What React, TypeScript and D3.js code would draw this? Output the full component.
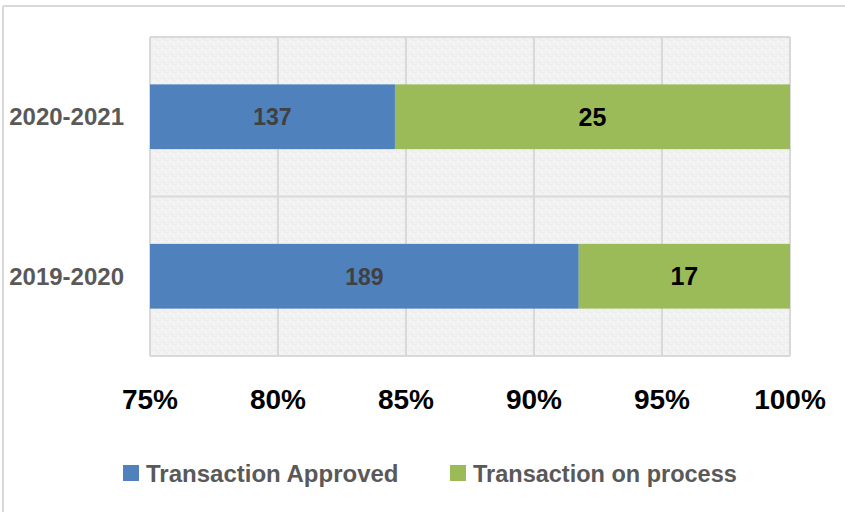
import React from "react";
import * as d3 from "d3";

const categories = ["2020-2021", "2019-2020"];
const approved = [137, 189];
const onProcess = [25, 17];
const xTicks = [0.75, 0.8, 0.85, 0.9, 0.95, 1.0];
const seriesNames = ["Transaction Approved", "Transaction on process"];
const seriesColors = ["#4f81bd", "#9bbb59"];

const W = 845;
const H = 512;

export default function App() {
  const x = d3.scaleLinear().domain([0.75, 1]).range([150, 790]);
  const y = d3
    .scaleBand<string>()
    .domain(categories)
    .range([37, 356])
    .paddingInner(0.594)
    .paddingOuter(0.297);
  const bw = y.bandwidth();
  const fmt = d3.format(".0%");
  const font = "'Liberation Sans', Arial, sans-serif";

  const rows = categories.map((c, i) => {
    const total = approved[i] + onProcess[i];
    const p = approved[i] / total;
    return { c, a: approved[i], o: onProcess[i], p };
  });

  const bandEdges = [37, ...categories.map((c) => (y(c) as number) + bw + (y.step() - bw) / 2)];

  return (
    <svg
      width={W}
      height={H}
      style={{ position: "absolute", left: 0, top: 0, background: "#fff" }}
      fontFamily={font}
    >
      <defs>
        <pattern id="tex" width="8" height="8" patternUnits="userSpaceOnUse">
          <rect width="8" height="8" fill="#f1f1f1" />
          <rect x="1" y="1" width="2" height="1" fill="#fafafa" />
          <rect x="5" y="3" width="1" height="2" fill="#fbfbfb" />
          <rect x="3" y="6" width="2" height="1" fill="#e9e9e9" />
          <rect x="6" y="0" width="1" height="1" fill="#e8e8e8" />
        </pattern>
      </defs>
      {/* outer frame (top and left only visible) */}
      <line x1={3} x2={W} y1={6} y2={6} stroke="#d9d9d9" strokeWidth={2} />
      <line x1={3} x2={3} y1={6} y2={H} stroke="#d9d9d9" strokeWidth={2} />

      {/* plot area */}
      <rect x={150} y={37} width={640} height={319} fill="url(#tex)" />
      {xTicks.map((t) => (
        <line key={t} x1={x(t)} x2={x(t)} y1={37} y2={356} stroke="#d9d9d9" strokeWidth={2} />
      ))}
      {bandEdges.map((e, i) => (
        <line key={i} x1={150} x2={790} y1={e} y2={e} stroke="#d9d9d9" strokeWidth={2} />
      ))}

      {rows.map((r) => {
        const y0 = y(r.c) as number;
        const xm = x(0.75);
        const xs = x(Math.max(0.75, r.p));
        const xe = x(1);
        return (
          <g key={r.c}>
            <rect x={xm} y={y0} width={xs - xm} height={bw} fill={seriesColors[0]} />
            <rect x={xs} y={y0} width={xe - xs} height={bw} fill={seriesColors[1]} />
            <text
              x={(xm + xs) / 2}
              y={y0 + bw / 2}
              dy="0.36em"
              textAnchor="middle"
              fontSize={23}
              fontWeight="bold"
              fill="#404040"
            >
              {r.a}
            </text>
            <text
              x={(xs + xe) / 2}
              y={y0 + bw / 2}
              dy="0.36em"
              textAnchor="middle"
              fontSize={25}
              fontWeight="bold"
              fill="#000"
            >
              {r.o}
            </text>
            <text
              x={124}
              y={y0 + bw / 2}
              dy="0.36em"
              textAnchor="end"
              fontSize={24}
              fontWeight="bold"
              fill="#595959"
            >
              {r.c}
            </text>
          </g>
        );
      })}

      {xTicks.map((t) => (
        <text
          key={t}
          x={x(t)}
          y={409}
          textAnchor="middle"
          fontSize={28}
          fontWeight="bold"
          fill="#000"
        >
          {fmt(t)}
        </text>
      ))}

      {/* legend */}
      {seriesNames.map((n, i) => {
        const lx = [123, 450][i];
        return (
          <g key={n}>
            <rect x={lx} y={465} width={16} height={16} fill={seriesColors[i]} />
            <text
              x={lx + 23}
              y={482}
              fontSize={i === 0 ? 24 : 23.5}
              fontWeight="bold"
              fill="#595959"
            >
              {n}
            </text>
          </g>
        );
      })}
    </svg>
  );
}
